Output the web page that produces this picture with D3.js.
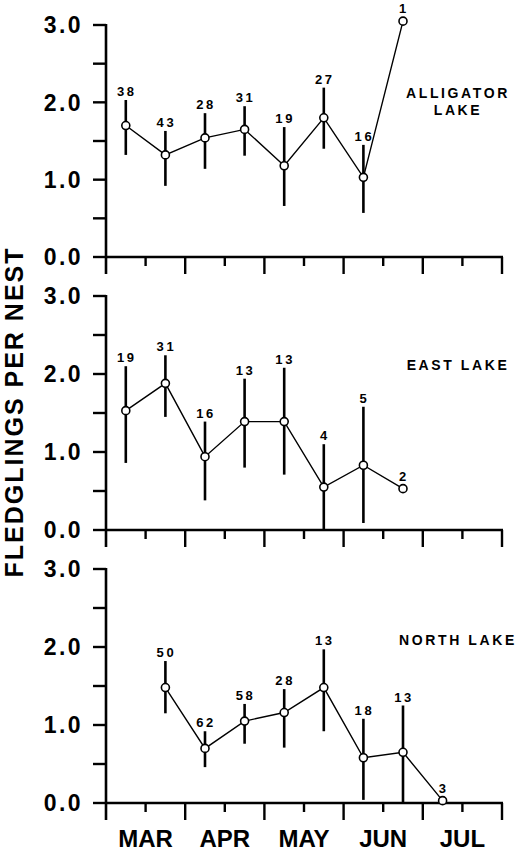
<!DOCTYPE html>
<html>
<head>
<meta charset="utf-8">
<script src="https://cdn.jsdelivr.net/npm/d3@7.9.0/dist/d3.min.js"></script>
<style>
  html, body { margin: 0; padding: 0; background: #fff; }
  svg { display: block; font-family: "Liberation Sans", Arial, sans-serif; }
</style>
</head>
<body>
<svg id="chart" width="525" height="852"></svg>
<script>
// ─── Data ────────────────────────────────────────────────────────────────────
// x is in half-month periods from 1 March (0 = Mar 1–15, 1 = Mar 16–31, ...)
const months = ['MAR', 'APR', 'MAY', 'JUN', 'JUL'];
const yTicks = [0, 1, 2, 3];

const lakeNames = [['ALLIGATOR', 'LAKE'], ['EAST LAKE'], ['NORTH LAKE']];

const alligatorPeriod = [0, 1, 2, 3, 4, 5, 6, 7];
const alligatorMean = [1.70, 1.32, 1.54, 1.65, 1.18, 1.80, 1.03, 3.05];
const alligatorHi = [2.03, 1.63, 1.86, 1.95, 1.68, 2.19, 1.45, null];
const alligatorLo = [1.32, 0.92, 1.14, 1.31, 0.66, 1.40, 0.57, null];
const alligatorN = [38, 43, 28, 31, 19, 27, 16, 1];

const eastPeriod = [0, 1, 2, 3, 4, 5, 6, 7];
const eastMean = [1.53, 1.88, 0.94, 1.39, 1.39, 0.55, 0.83, 0.53];
const eastHi = [2.10, 2.24, 1.39, 1.94, 2.08, 1.10, 1.58, null];
const eastLo = [0.86, 1.45, 0.38, 0.80, 0.71, 0.00, 0.09, null];
const eastN = [19, 31, 16, 13, 13, 4, 5, 2];

const northPeriod = [1, 2, 3, 4, 5, 6, 7, 8];
const northMean = [1.48, 0.70, 1.05, 1.16, 1.48, 0.58, 0.65, 0.03];
const northHi = [1.82, 0.92, 1.27, 1.46, 1.97, 1.08, 1.25, null];
const northLo = [1.15, 0.46, 0.76, 0.71, 0.92, 0.04, 0.00, null];
const northN = [50, 62, 58, 28, 13, 18, 13, 3];

// build rows per panel
function rows(period, mean, hi, lo, n) {
  return period.map((p, i) => ({ x: p + 0.5, y: mean[i], hi: hi[i], lo: lo[i], n: n[i] }));
}
const panels = [
  rows(alligatorPeriod, alligatorMean, alligatorHi, alligatorLo, alligatorN),
  rows(eastPeriod, eastMean, eastHi, eastLo, eastN),
  rows(northPeriod, northMean, northHi, northLo, northN)
];

// ─── Layout ──────────────────────────────────────────────────────────────────
const svg = d3.select('#chart');
const left = 106, right = 502;
const panelTop = [25, 296, 569];
const panelBottom = [257, 530, 803];

const x = d3.scaleLinear().domain([0, 10]).range([left, right]);

panels.forEach((data, pi) => {
  const y = d3.scaleLinear().domain([0, 3]).range([panelBottom[pi], panelTop[pi]]);
  const g = svg.append('g');

  // y axis line + ticks every 0.5
  g.append('line')
    .attr('x1', left).attr('x2', left)
    .attr('y1', y(3) - 1).attr('y2', y(0) + 17)
    .attr('stroke', '#000').attr('stroke-width', 2.6);
  d3.range(0, 3.01, 0.5).forEach(v => {
    g.append('line')
      .attr('x1', left - 13).attr('x2', left)
      .attr('y1', y(v)).attr('y2', y(v))
      .attr('stroke', '#000').attr('stroke-width', 2.4);
  });
  g.selectAll('.ytl').data(yTicks).join('text')
    .attr('x', 83).attr('y', d => y(d))
    .attr('dy', '0.36em')
    .attr('text-anchor', 'end')
    .attr('font-size', 23).attr('font-weight', 'bold')
    .attr('letter-spacing', 2.4)
    .text(d => d.toFixed(1));

  // x axis line + ticks: long at month boundaries, short at mid-month
  g.append('line')
    .attr('x1', left - 1).attr('x2', right + 1)
    .attr('y1', y(0)).attr('y2', y(0))
    .attr('stroke', '#000').attr('stroke-width', 2.6);
  d3.range(1, 11).forEach(t => {
    g.append('line')
      .attr('x1', x(t)).attr('x2', x(t))
      .attr('y1', y(0)).attr('y2', y(0) + (t % 2 === 0 ? 17 : 9))
      .attr('stroke', '#000').attr('stroke-width', 2.4);
  });

  // error bars
  g.selectAll('.err').data(data.filter(d => d.hi !== null)).join('line')
    .attr('x1', d => x(d.x)).attr('x2', d => x(d.x))
    .attr('y1', d => y(d.hi)).attr('y2', d => y(d.lo))
    .attr('stroke', '#000').attr('stroke-width', 2.6);

  // connecting line
  const line = d3.line().x(d => x(d.x)).y(d => y(d.y));
  g.append('path')
    .attr('d', line(data))
    .attr('fill', 'none').attr('stroke', '#000').attr('stroke-width', 1.4);

  // points
  g.selectAll('.pt').data(data).join('circle')
    .attr('cx', d => x(d.x)).attr('cy', d => y(d.y))
    .attr('r', 4)
    .attr('fill', '#fff').attr('stroke', '#000').attr('stroke-width', 1.6);

  // sample sizes
  g.selectAll('.n').data(data).join('text')
    .attr('x', d => x(d.x) + 1)
    .attr('y', d => (d.hi !== null ? y(d.hi) : y(d.y) - 4) - 4)
    .attr('text-anchor', 'middle')
    .attr('font-size', 13).attr('font-weight', 'bold')
    .attr('letter-spacing', 2.6)
    .text(d => d.n);

  // lake label
  const names = lakeNames[pi];
  const labelY = [98, 370, 645][pi];
  names.forEach((s, k) => {
    g.append('text')
      .attr('x', 458).attr('y', labelY + k * 17)
      .attr('text-anchor', 'middle')
      .attr('font-size', 14).attr('font-weight', 'bold')
      .attr('letter-spacing', 2.6)
      .text(s);
  });
});

// month labels under bottom panel
svg.selectAll('.month').data(months).join('text')
  .attr('x', (d, i) => x(i * 2 + 1))
  .attr('y', 847)
  .attr('text-anchor', 'middle')
  .attr('font-size', 24).attr('font-weight', 'bold')
  .text(d => d);

// y axis title
svg.append('text')
  .attr('transform', 'translate(23,412) rotate(-90)')
  .attr('text-anchor', 'middle')
  .attr('font-size', 25).attr('font-weight', 'bold')
  .attr('letter-spacing', 2)
  .text('FLEDGLINGS PER NEST');
</script>
</body>
</html>
